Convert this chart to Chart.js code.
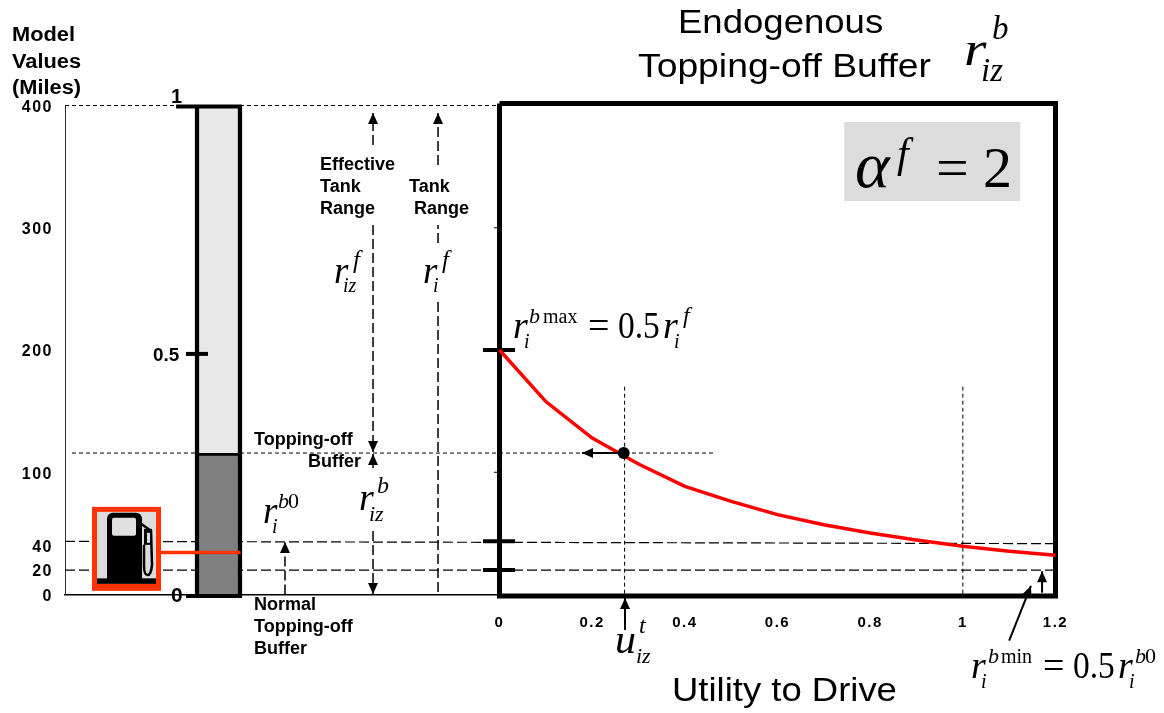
<!DOCTYPE html>
<html lang="en">
  <head>
    <meta charset="UTF-8" />
    <title>Endogenous Topping-off Buffer</title>
    <style>
      body {
        margin: 0;
        background-color: #fff;
      }
      canvas {
        display: block;
      }
    </style>
  </head>
  <body>
    <canvas id="bufferChart" width="1164" height="713"></canvas>
    <script src="https://cdn.jsdelivr.net/npm/chart.js"></script>
    <script>
      // values
      const utilityTicks = [0, 0.2, 0.4, 0.6, 0.8, 1, 1.2];
      const milesTicks = [0, 20, 40, 100, 200, 300, 400];
      const utilityValues = [0, 0.1, 0.2, 0.3, 0.4, 0.5, 0.6, 0.7, 0.8, 0.9, 1, 1.1, 1.2];
      const bufferMiles = [200, 157.8, 127.9, 106.7, 88.4, 76.2, 65.3, 57.1, 50.3, 44.6, 39.4, 35.4, 32.1];

      const toppingMiles = 115.7;
      const normalHighLeft = 43.5;
      const normalHighRight = 41.6;
      const normalLowMiles = 20;
      const currentUtility = 0.27;
      const tankFull = 400.4;
      const tankEmpty = -2.5;

      const SANS = "'Liberation Sans', Arial, sans-serif";
      const SERIF = "'Liberation Serif', 'Times New Roman', serif";

      function sans(size) {
        return `bold ${size}px ${SANS}`;
      }
      function ital(size) {
        return `italic ${size}px ${SERIF}`;
      }
      function rom(size) {
        return `${size}px ${SERIF}`;
      }

      // all the words and the pieces of the formulas
      const labels = [
        ["Model", 12, 41, sans(20), 1.09],
        ["Values", 12, 68, sans(20), 1.09],
        ["(Miles)", 12, 94, sans(20), 1.09],
        ["1", 171, 103, sans(20), 1],
        ["0.5", 153, 361, sans(18), 1.05],
        ["0", 171, 602, sans(21), 1],
        ["Effective", 320, 170, sans(17.5), 1.03],
        ["Tank", 320, 192, sans(17.5), 1.03],
        ["Range", 320, 214, sans(17.5), 1.03],
        ["Tank", 409, 192, sans(17.5), 1.03],
        ["Range", 414, 214, sans(17.5), 1.03],
        ["Topping-off", 254, 445, sans(17.5), 1.03],
        ["Buffer", 308, 467, sans(17.5), 1.03],
        ["Normal", 254, 610, sans(17.5), 1.03],
        ["Topping-off", 254, 632, sans(17.5), 1.03],
        ["Buffer", 254, 654, sans(17.5), 1.03],
        ["Endogenous", 678, 33, `33px ${SANS}`, 1.107],
        ["Topping-off Buffer", 638, 77, `33px ${SANS}`, 1.13],
        ["Utility to Drive", 672, 701, `33px ${SANS}`, 1.105],
        // r iz b, title
        ["r", 964, 65, ital(48), 1.2],
        ["b", 992, 39, ital(33), 1],
        ["iz", 981, 81, ital(33), 1],
        // alpha f = 2
        ["α", 855, 187, ital(66), 1],
        ["f", 897, 167, ital(42), 1],
        ["=", 936, 187, rom(58), 1],
        ["2", 983, 187, rom(58), 1],
        // r i b max = 0.5 r i f
        ["r", 513, 338, ital(38), 1],
        ["i", 524, 348, ital(20), 1],
        ["b", 529, 323, ital(22), 1],
        ["max", 543, 323, rom(20), 1],
        ["=", 588, 338, rom(38), 1],
        ["0.5", 618, 338, rom(38), 0.88],
        ["r", 663, 338, ital(38), 1],
        ["i", 674, 348, ital(20), 1],
        ["f", 683, 323, ital(24), 1],
        // r iz f
        ["r", 334, 283, ital(37), 1],
        ["iz", 343, 292, ital(20), 1],
        ["f", 353, 268, ital(25), 1],
        // r i f
        ["r", 423, 283, ital(37), 1],
        ["i", 433, 292, ital(20), 1],
        ["f", 442, 268, ital(25), 1],
        // r i b0
        ["r", 263, 523, ital(37), 1],
        ["i", 272, 533, ital(20), 1],
        ["b", 278, 508, ital(22), 1],
        ["0", 288, 508, rom(22), 1],
        // r iz b
        ["r", 359, 510, ital(38), 1],
        ["iz", 369, 521, ital(22), 1],
        ["b", 377, 493, ital(24), 1],
        // u iz t
        ["u", 615, 653, ital(42), 1],
        ["t", 639, 633, ital(24), 1],
        ["iz", 636, 663, ital(22), 1],
        // r i b min = 0.5 r i b0
        ["r", 971, 678, ital(38), 1],
        ["i", 981, 688, ital(20), 1],
        ["b", 988, 663, ital(22), 1],
        ["min", 1001, 663, rom(20), 1],
        ["=", 1043, 678, rom(38), 1],
        ["0.5", 1073, 678, rom(38), 0.88],
        ["r", 1118, 678, ital(38), 1],
        ["i", 1129, 688, ital(20), 1],
        ["b", 1135, 663, ital(22), 1],
        ["0", 1145, 663, rom(22), 1],
      ];

      const SHORT_DASH = [4, 3];
      const LONG_DASH = [10, 4];

      function seg(xs, ys, width, dash, extra) {
        return Object.assign(
          {
            type: "scatter",
            showLine: true,
            data: xs.map((x, i) => ({ x: x, y: ys[i] })),
            borderColor: "#000",
            borderWidth: width,
            borderDash: dash || [],
            pointRadius: 0,
            clip: false,
            order: 6,
          },
          extra || {}
        );
      }

      function tankBar(range, color, borders) {
        return {
          type: "bar",
          data: [{ x: -0.6065, y: range }],
          backgroundColor: color,
          borderColor: "#000",
          borderWidth: borders,
          borderSkipped: false,
          barThickness: 47,
          grouped: false,
          clip: false,
          order: 4,
        };
      }

      const datasets = [
        // guide lines
        seg([-0.9378, 0], [400, 400], 1, SHORT_DASH),
        seg([-0.9227, 0.463], [toppingMiles, toppingMiles], 1, SHORT_DASH),
        seg([-0.9378, 1.2], [normalHighLeft, normalHighRight], 1.2, LONG_DASH),
        seg([-0.9378, 1.2], [normalLowMiles, normalLowMiles], 1.2, LONG_DASH),
        seg([currentUtility, currentUtility], [170, 0], 1, SHORT_DASH),
        seg([1, 1], [170, 0], 1, SHORT_DASH),
        // tank
        tankBar([toppingMiles, tankFull], "#e8e8e8", { left: 4.5, right: 4.5, top: 0, bottom: 0 }),
        tankBar([tankEmpty, toppingMiles], "#808080", { left: 4.5, right: 4.5, top: 3, bottom: 4 }),
        seg([-0.698, -0.556], [399.2, 399.2], 4, null, { order: 3 }),
        seg([-0.6766, -0.6291], [196.8, 196.8], 4, null, { order: 3 }),
        seg([-0.6766, -0.556], [-1.2, -1.2], 4, null, { order: 3 }),
        seg([-0.737, -0.559], [34.3, 34.3], 3.5, null, { borderColor: "#ff3300", order: 1 }),
        // range arrows
        seg([-0.273, -0.273], [367.7, 393.9], 1.5, LONG_DASH, { arrow: true }),
        seg([-0.273, -0.273], [302.2, 116.6], 1.5, LONG_DASH, { arrow: true }),
        seg([-0.273, -0.273], [103.5, 115], 1.5, null, { arrow: true }),
        seg([-0.273, -0.273], [51.9, 0.4], 1.5, LONG_DASH, { arrow: true }),
        seg([-0.1327, -0.1327], [351.3, 393.9], 1.5, LONG_DASH, { arrow: true }),
        seg([-0.1327, -0.1327], [287.5, 302.2], 1.5, LONG_DASH),
        seg([-0.1327, -0.1327], [239.3, 0], 1.5, LONG_DASH),
        seg([-0.463, -0.463], [0, 43], 1.5, LONG_DASH, { arrow: true }),
        // frame of the right panel
        seg([0, 1.2, 1.2, 0, 0], [401.6, 401.6, -1.2, -1.2, 401.6], 5, null, { order: 3, borderJoinStyle: "miter" }),
        seg([-0.0356, 0.0335], [200, 200], 4, null, { order: 3 }),
        seg([-0.0356, 0.0335], [43.6, 43.6], 4, null, { order: 3 }),
        seg([-0.0356, 0.0335], [20, 20], 4, null, { order: 3 }),
        seg([-0.012, -0.005], [300, 300], 1, null, { order: 3 }),
        seg([-0.012, -0.005], [100, 100], 1, null, { order: 3 }),
        // the curve
        seg(utilityValues, bufferMiles, 3.5, null, { borderColor: "#ff0000", order: 2 }),
        seg([currentUtility, 0.178], [toppingMiles, toppingMiles], 2, null, { arrow: true, order: 1 }),
        seg([0.2709, 0.2709], [-29, -2.9], 2, null, { arrow: true, order: 1 }),
        seg([1.1, 1.147], [-37.8, 7], 2, null, { arrow: true, order: 1 }),
        seg([1.171, 1.171], [1.5, 19], 2, null, { arrow: true, order: 1 }),
        {
          type: "scatter",
          data: [{ x: 0.268, y: toppingMiles }],
          pointRadius: 6,
          pointBackgroundColor: "#000",
          pointBorderWidth: 0,
          clip: false,
          order: 0,
        },
      ];

      function drawPump(ctx, ox, oy) {
        // box and icon, measured from the top left of the red frame
        ctx.fillStyle = "#ff3300";
        ctx.fillRect(ox, oy, 69, 84);
        ctx.fillStyle = "#dcdcdc";
        ctx.fillRect(ox + 5, oy + 5, 59, 72);
        ctx.fillStyle = "#000";
        ctx.fillRect(ox + 5, oy + 71.5, 59, 5.5);
        ctx.beginPath();
        ctx.roundRect(ox + 15, oy + 6, 35, 67, [6, 6, 0, 0]);
        ctx.fill();
        ctx.fillStyle = "#e0e0e0";
        ctx.beginPath();
        ctx.roundRect(ox + 20, oy + 11, 24, 18, 2);
        ctx.fill();
        ctx.strokeStyle = "#000";
        ctx.lineWidth = 2.5;
        ctx.beginPath();
        ctx.moveTo(ox + 49, oy + 17);
        ctx.lineTo(ox + 59, oy + 24);
        ctx.lineTo(ox + 60, oy + 58);
        ctx.quadraticCurveTo(ox + 59, oy + 69, ox + 55, oy + 68);
        ctx.quadraticCurveTo(ox + 52, oy + 68, ox + 52, oy + 58);
        ctx.lineTo(ox + 52, oy + 38);
        ctx.stroke();
        ctx.fillStyle = "#000";
        ctx.fillRect(ox + 52, oy + 22, 8, 16);
        ctx.fillStyle = "#dcdcdc";
        ctx.fillRect(ox + 55, oy + 26, 3, 10);
      }

      const diagramPlugin = {
        id: "diagram",
        beforeDraw(chart) {
          chart.ctx.letterSpacing = "1.5px";
        },
        beforeDatasetsDraw(chart) {
          chart.ctx.letterSpacing = "0px";
        },
        afterDatasetsDraw(chart) {
          const ctx = chart.ctx;
          const xs = chart.scales.x;
          const ys = chart.scales.y;
          ctx.save();

          // arrow head on the last point of each arrow line
          chart.data.datasets.forEach((ds) => {
            if (!ds.arrow) return;
            const n = ds.data.length;
            const tx = xs.getPixelForValue(ds.data[n - 1].x);
            const ty = ys.getPixelForValue(ds.data[n - 1].y);
            const fx = xs.getPixelForValue(ds.data[n - 2].x);
            const fy = ys.getPixelForValue(ds.data[n - 2].y);
            ctx.save();
            ctx.translate(tx, ty);
            ctx.rotate(Math.atan2(ty - fy, tx - fx));
            ctx.fillStyle = "#000";
            ctx.beginPath();
            ctx.moveTo(0, 0);
            ctx.lineTo(-11, -5);
            ctx.lineTo(-11, 5);
            ctx.closePath();
            ctx.fill();
            ctx.restore();
          });

          // pump sits on top of the dashed guides
          drawPump(ctx, xs.getPixelForValue(-0.8795), ys.getPixelForValue(71.7));

          // grey box behind alpha f = 2
          ctx.fillStyle = "#dcdcdc";
          const bx = xs.getPixelForValue(0.744);
          const by = ys.getPixelForValue(386.5);
          ctx.fillRect(bx, by, 176, 79);

          ctx.fillStyle = "#000";
          ctx.textAlign = "left";
          ctx.textBaseline = "alphabetic";
          labels.forEach(([text, x, y, font, stretch]) => {
            ctx.save();
            ctx.font = font;
            ctx.translate(x, y);
            ctx.scale(stretch, 1);
            ctx.fillText(text, 0, 0);
            ctx.restore();
          });
          ctx.restore();
        },
      };

      new Chart(document.getElementById("bufferChart"), {
        type: "scatter",
        data: { datasets: datasets },
        plugins: [diagramPlugin],
        options: {
          responsive: false,
          animation: false,
          layout: { padding: { top: 105.5, right: 108.5, left: 0, bottom: 0 } },
          plugins: { legend: { display: false }, tooltip: { enabled: false } },
          events: [],
          scales: {
            x: {
              type: "linear",
              offset: false,
              min: -0.9378,
              max: 1.2,
              afterFit: (scale) => {
                scale.height = 118.5;
              },
              afterBuildTicks: (scale) => {
                scale.ticks = utilityTicks.map((v) => ({ value: v }));
              },
              grid: { drawOnChartArea: false, offset: false, tickLength: 3, color: "#333" },
              border: { color: "#000", width: 1.5 },
              ticks: {
                autoSkip: false,
                maxRotation: 0,
                padding: 16,
                color: "#000",
                font: { family: SANS, size: 15, weight: "bold" },
                callback: (v) => String(v),
              },
            },
            y: {
              min: 0,
              max: 400,
              afterFit: (scale) => {
                scale.width = 65;
              },
              afterBuildTicks: (scale) => {
                scale.ticks = milesTicks.map((v) => ({ value: v }));
              },
              grid: { display: false, drawTicks: false },
              border: { color: "#333", width: 1 },
              ticks: {
                autoSkip: false,
                padding: 12,
                labelOffset: 2,
                color: "#000",
                font: { family: SANS, size: 16, weight: "bold" },
                callback: (v) => String(v),
              },
            },
          },
        },
      });
    </script>
  </body>
</html>
